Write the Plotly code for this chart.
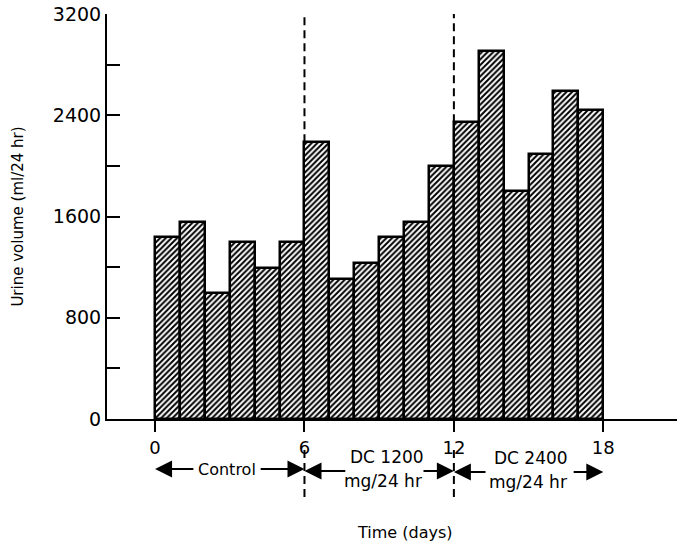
import plotly.graph_objects as go

# Data
day_start = list(range(18))
urine_volume = [1442, 1560, 998, 1402, 1196, 1402,
                2186, 1109, 1236, 1442, 1560, 1996,
                2345, 2907, 1798, 2091, 2590, 2440]
x_ticks = [0, 6, 12, 18]
y_ticks = [0, 400, 800, 1200, 1600, 2000, 2400, 2800, 3200]
y_ticktext = ["0", "", "800", "", "1600", "", "2400", "", "3200"]
phase_bounds = [0, 6, 12, 18]

FONT = "DejaVu Sans"

fig = go.Figure()
fig.add_trace(go.Bar(
    x=day_start, y=urine_volume, offset=0, width=1,
    marker=dict(color="white",
                line=dict(color="black", width=2.5),
                pattern=dict(shape="/", size=4, solidity=0.5,
                             fgcolor="black", bgcolor="white", fillmode="replace")),
    showlegend=False, hoverinfo="x+y",
))

# paper y for pixel rows (plot area from y=14 to y=419)
def py(pix):
    return (419 - pix) / 405.0

shapes = []
for d, top in [(6, urine_volume[6]), (12, urine_volume[12])]:
    shapes.append(dict(type="line", xref="x", yref="y", x0=d, x1=d, y0=top, y1=3215,
                       line=dict(color="black", width=2, dash="8px,5px")))
    shapes.append(dict(type="line", xref="x", yref="paper", x0=d, x1=d, y0=py(450), y1=py(500),
                       line=dict(color="black", width=2, dash="8px,5px")))

annotations = []
def arrow(tip, tail, ypix):
    annotations.append(dict(x=tip, y=py(ypix), xref="x", yref="paper",
                            ax=tail, ay=0, axref="x", ayref="pixel",
                            text="", showarrow=True, arrowhead=2, arrowsize=1.7,
                            arrowwidth=2, arrowcolor="black", standoff=0, startstandoff=0))

arrow(phase_bounds[0], 1.6, 469)
arrow(phase_bounds[1], 4.18, 469)
arrow(phase_bounds[1], 7.7, 471)
arrow(phase_bounds[2], 10.72, 471)
arrow(phase_bounds[2], 13.33, 472)
arrow(phase_bounds[3], 16.75, 472)

def label(text, x, ypix, size=17):
    annotations.append(dict(x=x, y=py(ypix), xref="x", yref="paper", text=text,
                            showarrow=False, xanchor="center", yanchor="middle",
                            font=dict(family=FONT, size=size, color="black")))

label("Control", 2.87, 469, 16)
label("DC 1200", 9.32, 457)
label("mg/24 hr", 9.14, 481)
label("DC 2400", 15.1, 458)
label("mg/24 hr", 14.98, 482)
label("Time (days)", 10.04, 532, 16)

fig.update_layout(
    width=677, height=546,
    margin=dict(l=107, r=0, t=14, b=127),
    paper_bgcolor="white", plot_bgcolor="white",
    font=dict(family=FONT, size=19, color="black"),
    shapes=shapes, annotations=annotations,
    bargap=0,
    xaxis=dict(range=[-1.93, 20.96], tickvals=x_ticks, ticks="outside", ticklen=11,
               tickwidth=2, tickcolor="black", showline=True, linewidth=2, linecolor="black",
               showgrid=False, zeroline=False, tickfont=dict(size=18)),
    yaxis=dict(range=[0, 3200], tickvals=y_ticks, ticktext=y_ticktext, ticks="inside",
               ticklen=13, tickwidth=2, tickcolor="black", showline=True, linewidth=2,
               linecolor="black", showgrid=False, zeroline=False, tickfont=dict(size=19),
               title=dict(text="Urine volume (ml/24 hr)", font=dict(size=15), standoff=26)),
)

fig.write_html("out.html", config={"displayModeBar": False},
               post_script="document.body.style.margin='0';")
